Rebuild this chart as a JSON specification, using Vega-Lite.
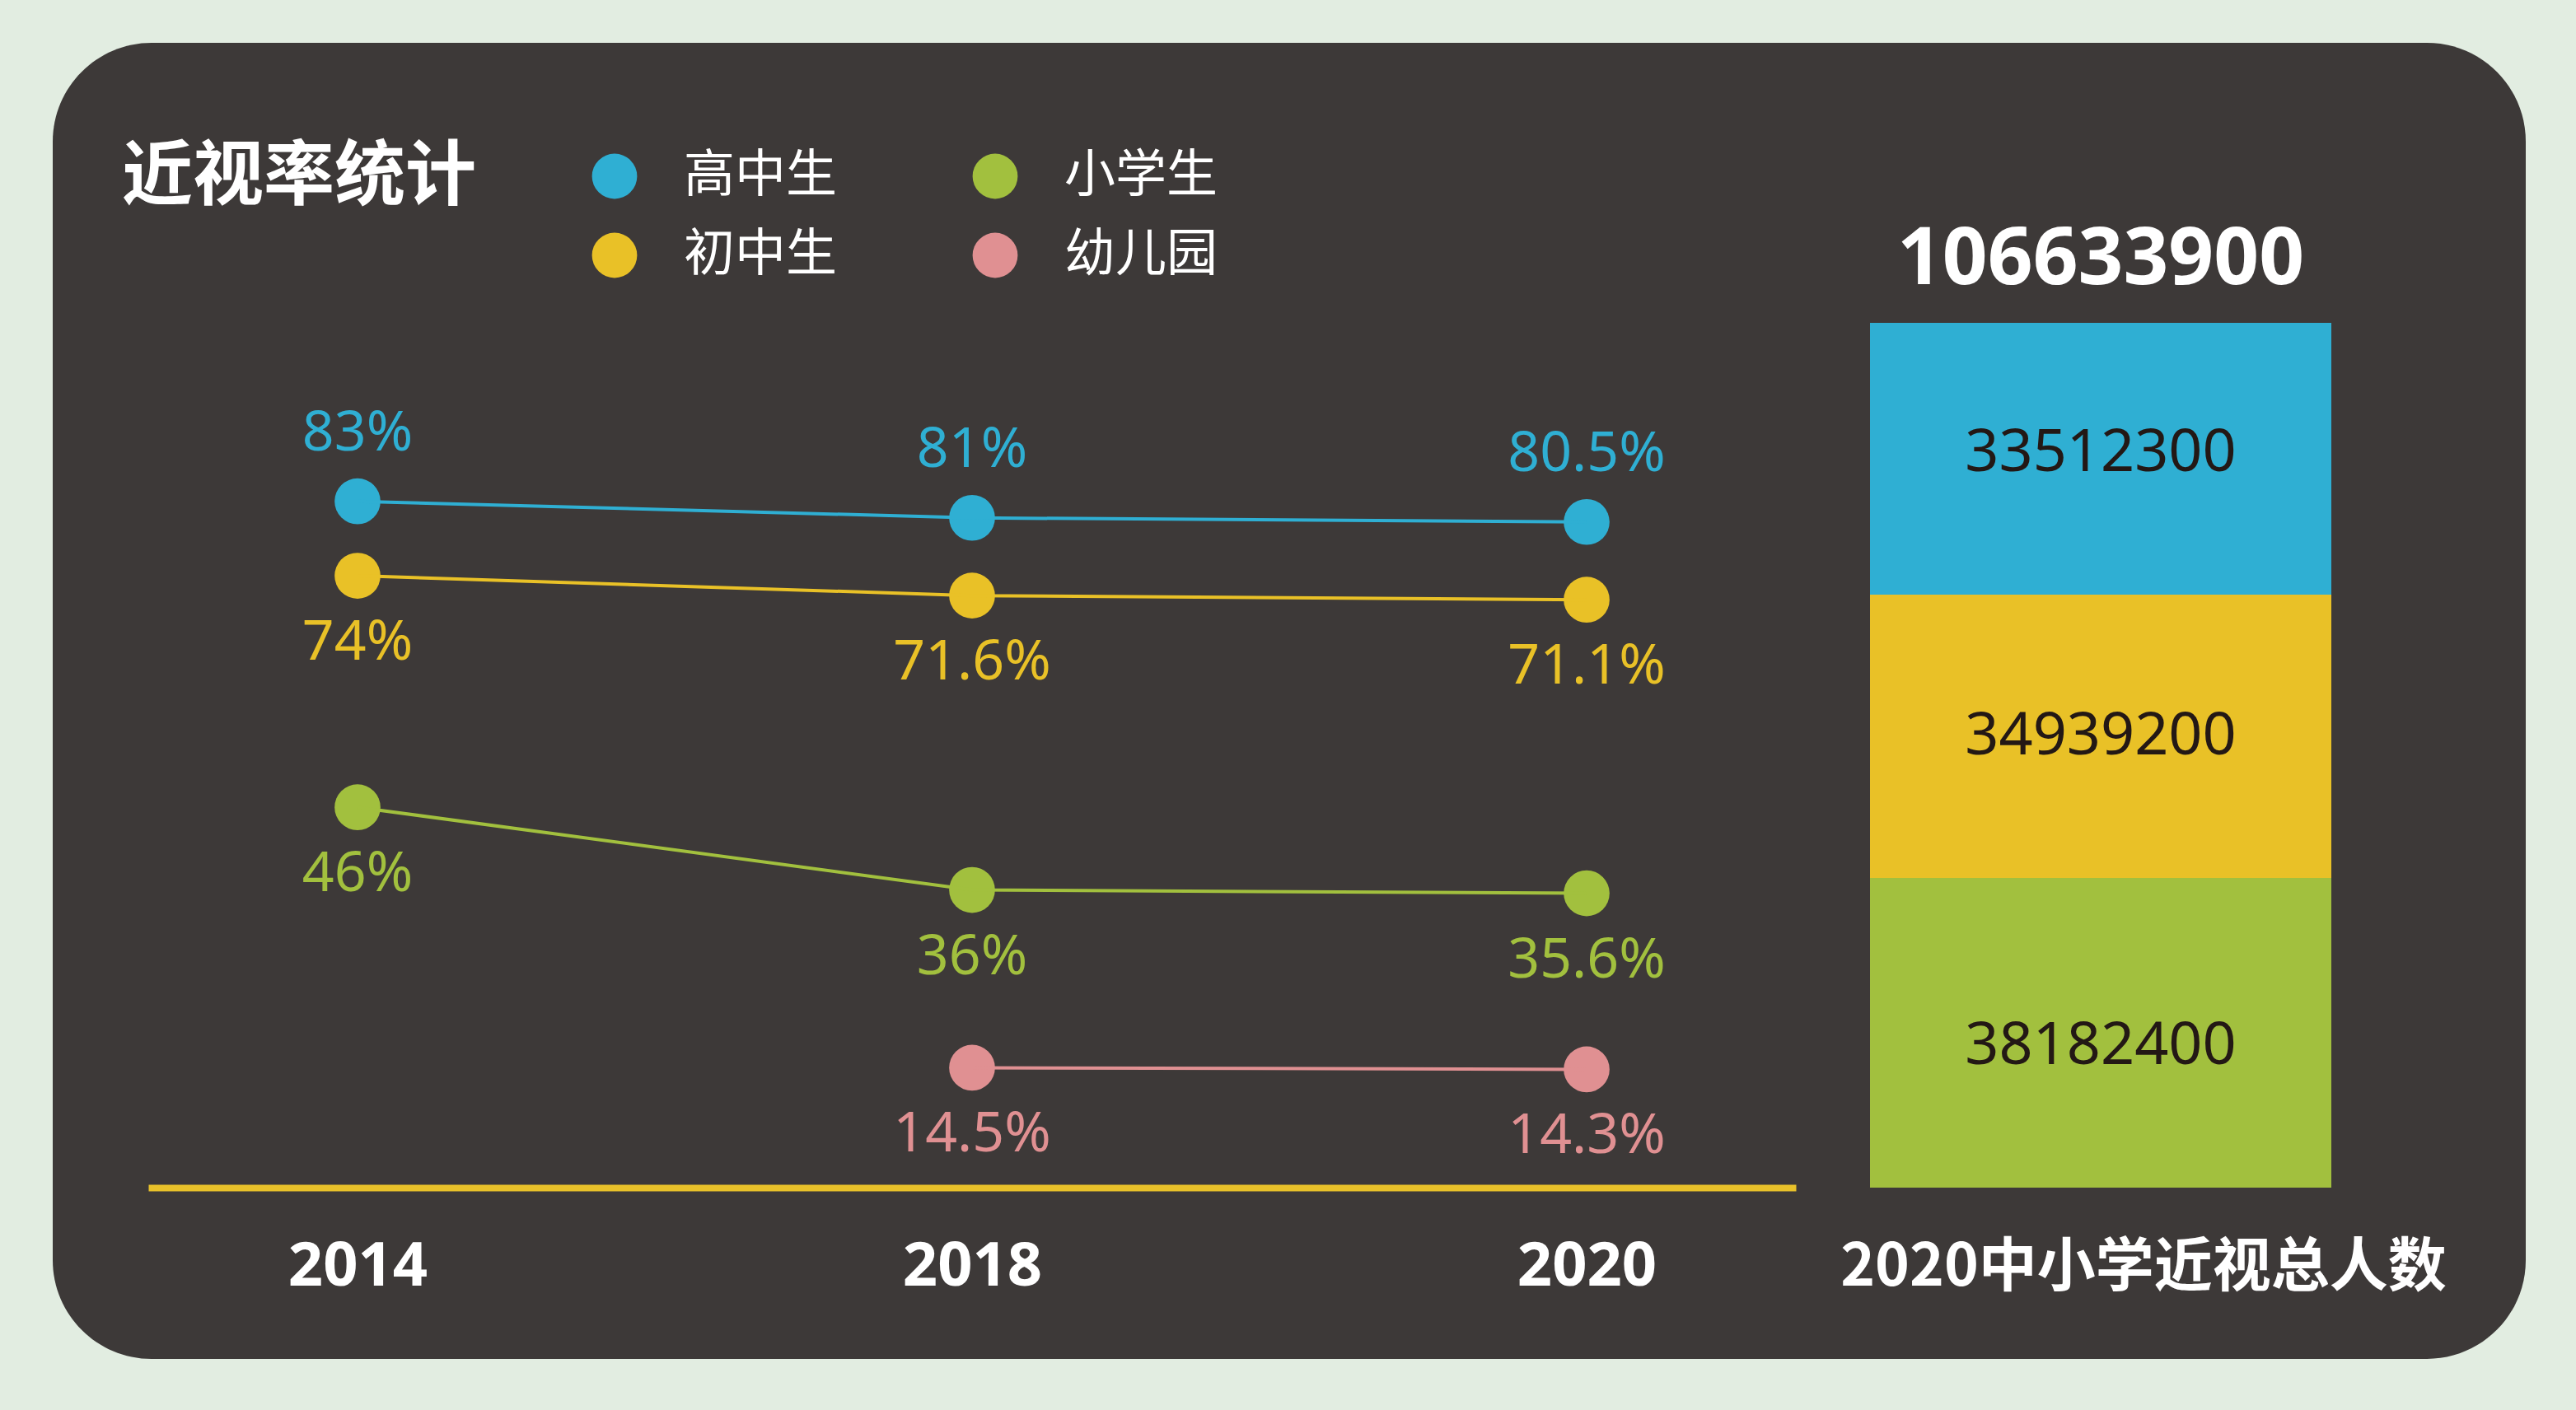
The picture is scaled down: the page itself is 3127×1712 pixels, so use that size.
{
  "$schema": "https://vega.github.io/schema/vega-lite/v6.json",
  "width": 3002,
  "height": 1598,
  "autosize": {"type": "none"},
  "padding": {"left": 64, "top": 52, "right": 61, "bottom": 62},
  "background": "#e2ede1",
  "title": {
    "text": "近视率统计",
    "anchor": "start",
    "frame": "group",
    "orient": "top",
    "baseline": "top",
    "offset": 0,
    "dx": 84,
    "dy": 208,
    "font": "Noto Sans CJK SC",
    "fontSize": 86,
    "fontWeight": "bold",
    "color": "#ffffff"
  },
  "config": {
    "view": {"fill": "#3d3938", "stroke": null, "cornerRadius": 120}
  },
  "datasets": {
    "rates": [
      {"year": "2014", "group": "高中生", "rate": 0.83},
      {"year": "2018", "group": "高中生", "rate": 0.81},
      {"year": "2020", "group": "高中生", "rate": 0.805},
      {"year": "2014", "group": "初中生", "rate": 0.74},
      {"year": "2018", "group": "初中生", "rate": 0.716},
      {"year": "2020", "group": "初中生", "rate": 0.711},
      {"year": "2014", "group": "小学生", "rate": 0.46},
      {"year": "2018", "group": "小学生", "rate": 0.36},
      {"year": "2020", "group": "小学生", "rate": 0.356},
      {"year": "2018", "group": "幼儿园", "rate": 0.145},
      {"year": "2020", "group": "幼儿园", "rate": 0.143}
    ],
    "counts": [
      {"col": "2020中小学近视总人数", "group": "高中生", "level": 3, "count": 33512300},
      {"col": "2020中小学近视总人数", "group": "初中生", "level": 2, "count": 34939200},
      {"col": "2020中小学近视总人数", "group": "小学生", "level": 1, "count": 38182400}
    ]
  },
  "layer": [
    {
      "data": {"name": "rates"},
      "encoding": {
        "x": {
          "field": "year",
          "type": "ordinal",
          "scale": {"type": "point", "range": [116, 2116], "padding": 0.3405},
          "axis": {
            "orient": "bottom",
            "offset": -208,
            "domainColor": "#e8c12a",
            "domainWidth": 8,
            "ticks": false,
            "tickSize": 0,
            "labelPadding": 60,
            "labelFont": "Noto Sans",
            "labelFontSize": 74,
            "labelFontWeight": "bold",
            "labelColor": "#ffffff",
            "labelAngle": 0,
            "labelOverlap": false,
            "labelBound": false,
            "grid": false,
            "title": null
          }
        },
        "y": {
          "field": "rate",
          "type": "quantitative",
          "scale": {"domain": [0, 1], "range": [1390, 386]},
          "axis": null
        },
        "color": {
          "field": "group",
          "type": "nominal",
          "scale": {
            "domain": ["高中生", "初中生", "小学生", "幼儿园"],
            "range": ["#2fafd3", "#e9c127", "#a2c03e", "#e09092"]
          },
          "legend": {
            "title": null,
            "orient": "none",
            "legendX": 651,
            "legendY": 131,
            "columns": 2,
            "symbolType": "circle",
            "symbolSize": 3000,
            "symbolStrokeWidth": 0,
            "labelFont": "Noto Sans CJK SC",
            "labelFontSize": 62,
            "labelColor": "#ffffff",
            "labelLimit": 0,
            "labelOffset": 53,
            "rowPadding": 34,
            "columnPadding": 160,
            "encode": {
              "symbols": {
                "update": {
                  "fill": {"scale": "color", "field": "value"},
                  "opacity": {"value": 1},
                  "fillOpacity": {"value": 1}
                }
              }
            }
          }
        }
      },
      "layer": [
        {"mark": {"type": "circle", "size": 3100, "opacity": 1}},
        {"mark": {"type": "line", "strokeWidth": 4}},
        {
          "transform": [{"filter": {"field": "group", "equal": "高中生"}}],
          "mark": {"type": "text", "dy": -82, "baseline": "middle", "align": "center", "font": "Noto Sans", "fontSize": 68},
          "encoding": {"text": {"field": "rate", "type": "quantitative", "format": ".1~%"}}
        },
        {
          "transform": [{"filter": {"not": {"field": "group", "equal": "高中生"}}}],
          "mark": {"type": "text", "dy": 82, "baseline": "middle", "align": "center", "font": "Noto Sans", "fontSize": 68},
          "encoding": {"text": {"field": "rate", "type": "quantitative", "format": ".1~%"}}
        }
      ]
    },
    {
      "data": {"name": "counts"},
      "encoding": {
        "x": {
          "field": "col",
          "type": "nominal",
          "scale": {"type": "band", "range": [2206, 2766], "paddingInner": 0, "paddingOuter": 0},
          "axis": {
            "orient": "bottom",
            "offset": -208,
            "domain": false,
            "ticks": false,
            "tickSize": 0,
            "labelPadding": 62,
            "labelFont": "Noto Sans CJK SC",
            "labelFontSize": 71,
            "labelFontWeight": "bold",
            "labelColor": "#ffffff",
            "labelLimit": 0,
            "labelAngle": 0,
            "labelOffset": 52,
            "labelOverlap": false,
            "labelBound": false,
            "grid": false,
            "title": null
          }
        }
      },
      "layer": [
        {
          "mark": {"type": "bar"},
          "encoding": {
            "y": {
              "field": "count",
              "type": "quantitative",
              "stack": "zero",
              "scale": {"domain": [0, 106633900], "range": [1390, 340]},
              "axis": null
            },
            "color": {"field": "group", "type": "nominal"},
            "order": {"field": "level", "type": "quantitative"}
          }
        },
        {
          "transform": [
            {"stack": "count", "groupby": ["col"], "sort": [{"field": "level"}], "as": ["c0", "c1"]}
          ],
          "mark": {"type": "text", "baseline": "middle", "align": "center", "dy": -172, "font": "Noto Sans", "fontSize": 72, "color": "#231815"},
          "encoding": {
            "y": {
              "field": "c0",
              "type": "quantitative",
              "scale": {"domain": [0, 106633900], "range": [1390, 340]},
              "axis": null
            },
            "text": {"field": "count", "type": "quantitative", "format": "d"}
          }
        },
        {
          "mark": {"type": "text", "baseline": "middle", "align": "center", "dy": -76, "font": "Noto Sans", "fontSize": 96, "fontWeight": "bold", "color": "#ffffff"},
          "encoding": {
            "y": {
              "aggregate": "sum",
              "field": "count",
              "type": "quantitative",
              "scale": {"domain": [0, 106633900], "range": [1390, 340]},
              "axis": null
            },
            "text": {"aggregate": "sum", "field": "count", "type": "quantitative", "format": "d"}
          }
        }
      ]
    }
  ],
  "resolve": {"scale": {"x": "independent", "y": "independent"}}
}
